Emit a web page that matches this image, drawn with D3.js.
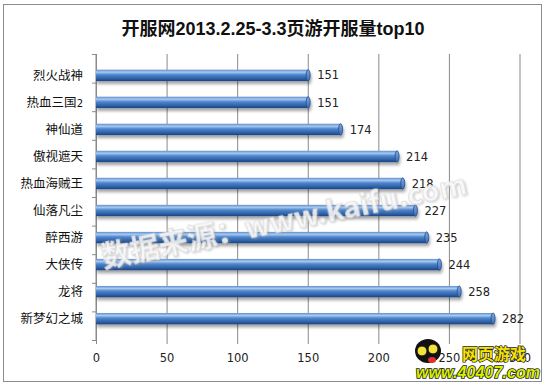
<!DOCTYPE html>
<html>
<head>
<meta charset="utf-8">
<script src="https://cdn.jsdelivr.net/npm/d3@7"></script>
<style>
  body { margin: 0; background: #fff; }
  svg { display: block; }
  .cjk { font-family: "Noto Sans CJK SC", "DejaVu Sans", sans-serif; }
  .num { font-family: "DejaVu Sans", sans-serif; }
</style>
</head>
<body>
<div id="container"></div>
<script>
// data
const title = '开服网2013.2.25-3.3页游开服量top10';
const categories = ['烈火战神', '热血三国2', '神仙道', '傲视遮天', '热血海贼王', '仙落凡尘', '醉西游', '大侠传', '龙将', '新梦幻之城'];
const values = [151, 151, 174, 214, 218, 227, 235, 244, 258, 282];
const xTicks = [0, 50, 100, 150, 200, 250, 300];

const W = 546, H = 385;
const margin = { top: 54, right: 27, bottom: 45, left: 96 };
const width = W - margin.left - margin.right;
const height = H - margin.top - margin.bottom;

const svg = d3.select('#container').append('svg')
  .attr('width', W).attr('height', H);

const defs = svg.append('defs');
const grad = defs.append('linearGradient').attr('id', 'barGrad')
  .attr('x1', 0).attr('y1', 0).attr('x2', 0).attr('y2', 1);
grad.append('stop').attr('offset', '0%').attr('stop-color', '#5d8fd0');
grad.append('stop').attr('offset', '22%').attr('stop-color', '#a9c8ee');
grad.append('stop').attr('offset', '45%').attr('stop-color', '#4f86cc');
grad.append('stop').attr('offset', '80%').attr('stop-color', '#2c5fa6');
grad.append('stop').attr('offset', '100%').attr('stop-color', '#1c427c');

const capGrad = defs.append('linearGradient').attr('id', 'capGrad')
  .attr('x1', 0).attr('y1', 0).attr('x2', 0).attr('y2', 1);
capGrad.append('stop').attr('offset', '0%').attr('stop-color', '#7ea9e0');
capGrad.append('stop').attr('offset', '100%').attr('stop-color', '#3a6cb3');

const shadow = defs.append('filter').attr('id', 'shadow')
  .attr('x', '-5%').attr('y', '-50%').attr('width', '110%').attr('height', '220%');
shadow.append('feDropShadow').attr('dx', 1).attr('dy', 3)
  .attr('stdDeviation', 1.6).attr('flood-color', '#000').attr('flood-opacity', 0.35);

const wmShadow = defs.append('filter').attr('id', 'wmShadow');
wmShadow.append('feDropShadow').attr('dx', 1).attr('dy', 1)
  .attr('stdDeviation', 1).attr('flood-color', '#999').attr('flood-opacity', 0.6);

// outer frame
svg.append('rect')
  .attr('x', 3.5).attr('y', 4.5).attr('width', 538).attr('height', 377)
  .attr('fill', '#fff').attr('stroke', '#8c8c8c');

// title
svg.append('text')
  .attr('x', 273).attr('y', 35)
  .attr('text-anchor', 'middle')
  .attr('font-family', '"Liberation Sans", "Noto Sans CJK SC", sans-serif')
  .attr('font-size', 18).attr('font-weight', 'bold')
  .attr('fill', '#111')
  .text(title);

const g = svg.append('g').attr('transform', `translate(${margin.left},${margin.top})`);

const x = d3.scaleLinear().domain([0, 300]).range([0, width + 0.5]);
const y = d3.scaleBand().domain(categories).range([0, height]).padding(0.58);

// gridlines + bottom ticks
const xAxis = g.append('g')
  .attr('transform', `translate(0,${height})`)
  .call(d3.axisBottom(x).tickValues(xTicks).tickSize(-height).tickSizeOuter(0))
  .call(a => a.select('.domain').remove());
xAxis.selectAll('.tick line')
  .attr('stroke', '#8a8a8a').attr('y2', -height).attr('y1', 4);
xAxis.selectAll('.tick text')
  .attr('class', 'num').attr('font-size', 11.5).attr('fill', '#222')
  .attr('y', 14);

// y axis: line plus ticks at band boundaries
const yAxisScale = d3.scaleLinear().domain([0, categories.length]).range([0, height]);
const yAxis = g.append('g')
  .call(d3.axisLeft(yAxisScale).ticks(categories.length).tickSize(4).tickFormat(''));
yAxis.select('.domain').attr('stroke', '#8a8a8a').attr('d', `M0,0V${height}`);
yAxis.selectAll('.tick line').attr('stroke', '#8a8a8a');

// category labels
const labels = g.append('g').selectAll('text')
  .data(categories).join('text')
  .attr('class', 'cjk')
  .attr('x', -13)
  .attr('y', d => y(d) + y.bandwidth() / 2)
  .attr('dy', '0.36em')
  .attr('text-anchor', 'end')
  .attr('font-size', 12.5)
  .attr('fill', '#111');
labels.each(function (d) {
  const m = d.match(/^(.*?)(\d*)$/);
  const t = d3.select(this);
  t.append('tspan').text(m[1]);
  if (m[2]) t.append('tspan').attr('class', 'num').attr('font-size', 10).text(m[2]);
});

// bars
const bars = g.append('g').selectAll('g')
  .data(values).join('g')
  .attr('filter', 'url(#shadow)');
bars.append('rect')
  .attr('x', 0)
  .attr('y', (d, i) => y(categories[i]))
  .attr('width', d => x(d) - 1)
  .attr('height', y.bandwidth())
  .attr('fill', 'url(#barGrad)');
bars.append('ellipse')
  .attr('cx', d => x(d) - 1)
  .attr('cy', (d, i) => y(categories[i]) + y.bandwidth() / 2)
  .attr('rx', 2)
  .attr('ry', y.bandwidth() / 2)
  .attr('fill', 'url(#capGrad)')
  .attr('stroke', '#1f4a88').attr('stroke-width', 0.8);

// watermark text
svg.append('text')
  .attr('class', 'cjk')
  .attr('transform', 'translate(104,268) rotate(-11.5)')
  .attr('font-size', 29).attr('font-weight', 'bold')
  .attr('textLength', 372)
  .attr('fill', '#fff').attr('fill-opacity', 0.8)
  .attr('stroke', '#d8d8d8').attr('stroke-width', 0.7)
  .attr('filter', 'url(#wmShadow)')
  .text('数据来源：www.kaifu.com');

// value labels
g.append('g').selectAll('text')
  .data(values).join('text')
  .attr('class', 'num')
  .attr('x', d => x(d) + 8)
  .attr('y', (d, i) => y(categories[i]) + y.bandwidth() / 2)
  .attr('dy', '0.36em')
  .attr('font-size', 11.5)
  .attr('fill', '#222')
  .text(d => d);

// site logo (approximation)
const logo = svg.append('g');
logo.append('ellipse').attr('cx', 428).attr('cy', 351).attr('rx', 13).attr('ry', 12).attr('fill', '#111');
logo.append('circle').attr('cx', 422).attr('cy', 351).attr('r', 5).attr('fill', '#f2e23a').attr('stroke', '#111');
logo.append('circle').attr('cx', 433).attr('cy', 349).attr('r', 5).attr('fill', '#f2e23a').attr('stroke', '#111');
logo.append('ellipse').attr('cx', 432).attr('cy', 360).attr('rx', 4).attr('ry', 3).attr('fill', '#e03030');
logo.append('text')
  .attr('class', 'cjk')
  .attr('x', 462).attr('y', 360)
  .attr('font-size', 16).attr('font-weight', 'bold')
  .attr('fill', '#f5e400').attr('stroke', '#222').attr('stroke-width', 1.4)
  .attr('paint-order', 'stroke')
  .text('网页游戏');
logo.append('text')
  .attr('x', 416).attr('y', 378)
  .attr('font-family', '"Liberation Sans", sans-serif')
  .attr('font-size', 16).attr('font-weight', 'bold').attr('font-style', 'italic')
  .attr('textLength', 124)
  .attr('fill', '#d8f000').attr('stroke', '#222').attr('stroke-width', 1.6)
  .attr('paint-order', 'stroke')
  .text('www.40407.com');
</script>
</body>
</html>
